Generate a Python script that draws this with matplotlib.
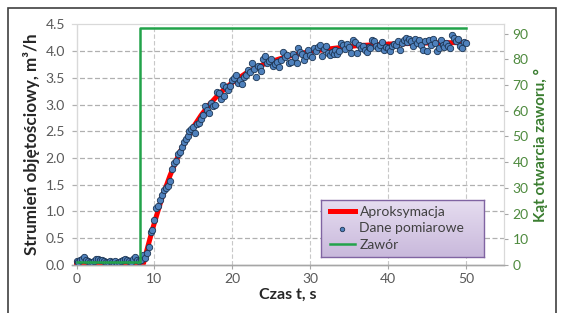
import numpy as np
import matplotlib.pyplot as plt
from matplotlib.patches import Rectangle
from matplotlib.colors import LinearSegmentedColormap

plt.rcParams['font.family'] = ['Lato', 'DejaVu Sans']

# measured flow, one sample every 0.25 s from 0 to 50 s
flow = [0.08, 0.06, 0.10, 0.12, 0.14, 0.10, 0.07, 0.05,
        0.06, 0.08, 0.11, 0.12, 0.10, 0.09, 0.07, 0.06,
        0.05, 0.08, 0.06, 0.04, 0.07, 0.03, 0.05, 0.08,
        0.10, 0.11, 0.09, 0.07, 0.06, 0.12, 0.14, 0.09,
        0.07, 0.10, 0.19, 0.13, 0.22, 0.34, 0.62, 0.66,
        0.84, 1.07, 1.10, 1.22, 1.31, 1.40, 1.44, 1.47,
        1.57, 1.80, 1.90, 1.95, 2.08, 2.12, 2.20, 2.30,
        2.36, 2.42, 2.50, 2.55, 2.58, 2.47, 2.64, 2.66,
        2.72, 2.80, 2.98, 2.90, 2.85, 3.03, 2.98, 3.00,
        3.24, 3.22, 3.10, 3.37, 3.15, 3.32, 3.28, 3.35,
        3.45, 3.50, 3.56, 3.40, 3.46, 3.38, 3.52, 3.55,
        3.64, 3.60, 3.78, 3.66, 3.52, 3.72, 3.70, 3.62,
        3.85, 3.90, 3.78, 3.82, 3.86, 3.72, 3.75, 3.80,
        3.70, 3.84, 3.99, 3.88, 3.92, 3.78, 3.80, 3.95,
        3.88, 3.77, 4.06, 3.98, 3.95, 3.84, 3.90, 4.02,
        3.92, 3.88, 4.06, 4.00, 4.08, 4.12, 3.90, 4.04,
        4.10, 3.96, 3.92, 3.98, 3.95, 4.02, 3.94, 4.00,
        4.15, 4.12, 4.03, 4.14, 4.08, 3.97, 4.20, 4.16,
        3.96, 4.12, 4.05, 4.10, 4.02, 3.99, 4.08, 4.05,
        4.20, 4.18, 4.10, 4.05, 4.12, 4.16, 4.02, 4.08,
        4.05, 4.00, 4.10, 4.14, 4.12, 4.18, 4.02, 4.15,
        4.20, 4.24, 4.17, 4.22, 4.18, 4.10, 4.22, 4.15,
        4.20, 4.12, 4.02, 4.18, 4.00, 4.20, 4.12, 4.22,
        4.15, 4.00, 4.05, 4.20, 4.12, 4.08, 4.15, 4.10,
        4.05, 4.30, 4.25, 4.18, 4.22, 4.10, 4.06, 4.17,
        4.15]
t_meas = np.linspace(0, 50, len(flow))

# fitted curve
t_fit = [0, 8.6, 9.0, 9.5, 10, 11, 12, 13, 14, 15, 16, 17, 18, 19, 20,
         22, 24, 26, 28, 30, 33, 36, 40, 45, 50]
flow_fit = [0.03, 0.03, 0.26, 0.53, 0.79, 1.27, 1.67, 2.02, 2.32, 2.58, 2.80,
            2.99, 3.15, 3.29, 3.41, 3.61, 3.75, 3.85, 3.93, 3.99, 4.05, 4.10,
            4.13, 4.15, 4.16]

# valve opening angle
t_valve = [0, 8.2, 8.2, 50]
angle = [1.3, 1.3, 92, 92]

W, H = 564, 313
fig = plt.figure(figsize=(5.64, 3.13), dpi=100)
ax = fig.add_axes([0.1277, 0.1534, 0.766, 0.769])
ax2 = ax.twinx()

grid_c = '#b0b0b0'
ax.plot(t_fit, flow_fit, color='#ff0000', lw=3.6, label='Aproksymacja', zorder=2)
ax.scatter(t_meas, flow, s=21, color='#4f81bd', edgecolor='#1c3553', linewidth=0.6,
           label='Dane pomiarowe', zorder=3)
ax2.plot(t_valve, angle, color='#22a34a', lw=1.8, label='Zawór')

ax.set_xlim(-0.58, 54.9)
ax.set_ylim(0, 4.5)
ax2.set_ylim(0, 93.6)
ax.set_xticks([0, 10, 20, 30, 40, 50])
ax.set_yticks(np.arange(0, 4.51, 0.5))
ax.set_yticklabels(['%.1f' % v for v in np.arange(0, 4.51, 0.5)])
ax2.set_yticks(range(0, 91, 10))

for y in np.arange(0.5, 4.01, 0.5):
    ax.axhline(y, color=grid_c, lw=0.9, ls=(0, (4, 2)), zorder=0)
for x in [10, 20, 30, 40, 50]:
    ax.axvline(x, color='#c8c8c8', lw=0.8, ls=(0, (4, 2)), zorder=0)
ax.axvline(0, color='#d9d9d9', lw=1.0, zorder=0)

for a in (ax, ax2):
    a.spines['left'].set_visible(False)
    a.spines['top'].set_color('#d9d9d9')
    a.spines['right'].set_color('#d9d9d9')
    a.spines['bottom'].set_color('#a6a6a6')
    a.spines['bottom'].set_linewidth(1.0)

ax.tick_params(axis='y', length=0, labelsize=10, labelcolor='#595959', pad=5)
ax.tick_params(axis='x', length=3, color='#a6a6a6', labelsize=10, labelcolor='#595959', pad=3)
ax2.tick_params(axis='y', length=3, color='#a6a6a6', labelsize=10, labelcolor='#4e8a3e', pad=3)

ax.set_xlabel('Czas t, s', fontsize=11.5, fontweight='bold', color='#262626', labelpad=2)
ax.set_ylabel('Strumień objętościowy, m³/h', fontsize=12.3, fontweight='bold',
              color='#262626', labelpad=4)
ax2.set_ylabel('Kąt otwarcia zaworu, °', fontsize=11, fontweight='bold',
               color='#3a7d30', labelpad=4)

# legend box with lavender gradient
lx0, lx1, ly0, ly1 = 321, 484, 200, 257
bg = fig.add_axes([lx0 / W, 1 - ly1 / H, (lx1 - lx0) / W, (ly1 - ly0) / H])
grad = LinearSegmentedColormap.from_list('lav', ['#e6ddf0', '#c9b9dc'])
bg.imshow(np.linspace(0, 1, 50).reshape(-1, 1), aspect='auto', cmap=grad,
          extent=[0, 1, 0, 1], origin='upper')
bg.set_xticks([])
bg.set_yticks([])
for s in bg.spines.values():
    s.set_color('#8064a2')
    s.set_linewidth(1.0)

h1, l1 = ax.get_legend_handles_labels()
h2, l2 = ax2.get_legend_handles_labels()
leg = bg.legend(h1 + h2, l1 + l2, loc='center left', bbox_to_anchor=(0.04, 0.5),
                borderaxespad=0, fontsize=10, frameon=False,
                handlelength=1.75, borderpad=0.2, labelspacing=0.33, handletextpad=0.35,
                markerscale=0.7, scatterpoints=1)
for txt in leg.get_texts():
    txt.set_color('#404040')

fig.patches.append(Rectangle((8 / W, -0.1), 548 / W, 1.1 - 8 / H,
                             transform=fig.transFigure, fill=False,
                             edgecolor='#404040', lw=1.2))

fig.savefig('out.png', dpi=100)
